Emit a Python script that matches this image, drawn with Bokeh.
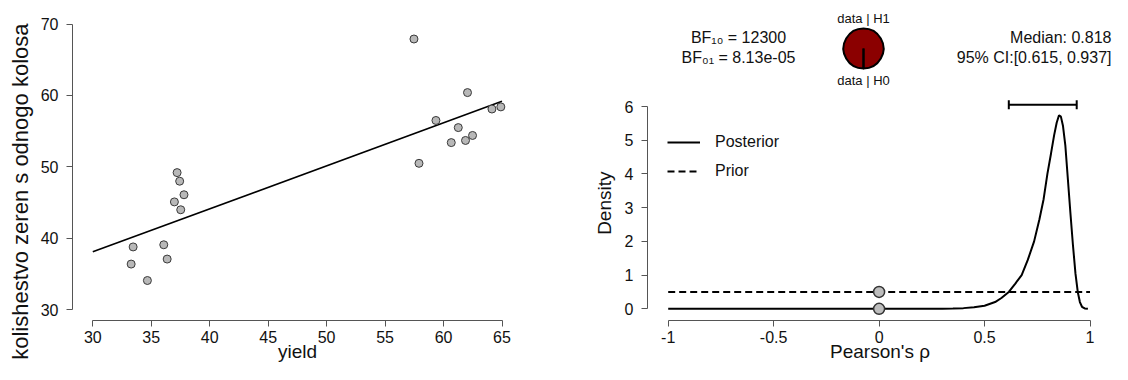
import math
import numpy as np
from bokeh.plotting import figure
from bokeh.layouts import row
from bokeh.models import Range1d, FixedTicker, Legend, LegendItem, Title
from bokeh.core.properties import value
from bokeh.embed import file_html
from bokeh.resources import INLINE

# ---------------- data ----------------
yield_vals = [37.21, 37.43, 37.80, 36.98, 37.52, 36.07, 33.45, 33.28, 36.36, 34.67,
              57.47, 62.05, 59.35, 61.26, 60.66, 61.88, 62.48, 57.90, 64.14, 64.90]
grains = [49.2, 48.0, 46.1, 45.1, 44.0, 39.1, 38.8, 36.4, 37.1, 34.1,
          67.9, 60.4, 56.5, 55.5, 53.4, 53.7, 54.4, 50.5, 58.1, 58.4]
x_ticks_left = [30, 35, 40, 45, 50, 55, 60, 65]
y_ticks_left = [30, 40, 50, 60, 70]

rho = [-1.0, -0.5, 0.0, 0.2, 0.3, 0.35, 0.40, 0.45, 0.50, 0.55, 0.58, 0.615, 0.645,
       0.676, 0.705, 0.735, 0.76, 0.78, 0.798, 0.815, 0.83, 0.842, 0.853, 0.862,
       0.872, 0.883, 0.895, 0.907, 0.919, 0.931, 0.942, 0.952, 0.962, 0.975, 0.99]
posterior = [0.0, 0.0, 0.0, 0.0, 0.004, 0.01, 0.02, 0.045, 0.09, 0.20, 0.32, 0.50, 0.74,
             1.00, 1.45, 2.00, 2.65, 3.25, 4.00, 4.60, 5.15, 5.52, 5.74, 5.70,
             5.42, 4.85, 3.85, 2.85, 1.90, 1.05, 0.50, 0.20, 0.06, 0.01, 0.0]
prior_rho = [-1.0, 1.0]
prior_density = [0.5, 0.5]
point_rho = [0.0, 0.0]
point_density = [0.0, 0.5]          # posterior and prior density at rho = 0
ci = [0.615, 0.937]
ci_height = 6.05
median = 0.818
bf10 = 12300
bf01 = 8.13e-05
x_ticks_right = [-1, -0.5, 0, 0.5, 1]
x_tick_labels_right = ["-1", "-0.5", "0", "0.5", "1"]
y_ticks_right = [0, 1, 2, 3, 4, 5, 6]

FONT = "Liberation Sans"
AXIS_COL = "#555555"
TXT = "#111111"
H = 364
FT, FB = 0, 320          # common frame top / bottom (row aligns the frames)

def style_axes(p, tick_size="16px"):
    p.outline_line_color = None
    p.grid.visible = False
    p.background_fill_color = "white"
    p.border_fill_color = "white"
    for ax in p.axis:
        ax.axis_line_color = AXIS_COL
        ax.major_tick_line_color = AXIS_COL
        ax.minor_tick_line_color = None
        ax.major_tick_out = 6
        ax.major_tick_in = 0
        ax.major_label_text_font = FONT
        ax.major_label_text_font_size = tick_size
        ax.major_label_text_color = TXT
        ax.axis_label_text_font = FONT
        ax.axis_label_text_font_size = "19px"
        ax.axis_label_text_font_style = "normal"
        ax.axis_label_text_color = TXT

def side_title(p, text, size, top_y, standoff=10):
    # vertical title left of the y axis; its upper end sits top_y px below the top
    p.add_layout(Title(text=text, align="right", offset=top_y - FT, standoff=standoff,
                       text_font=FONT, text_font_size=size,
                       text_font_style="normal", text_color=TXT), "left")

# ---------------- left: scatter ----------------
W1 = 560
fl, fr = 72, 522
x30_px, x65_px = 92.3, 501.5
y70_px, y30_px = 23.5, 309.3
sx1 = (x65_px - x30_px) / 35.0
sy1 = (y30_px - y70_px) / 40.0
xr1 = Range1d(30 - (x30_px - fl) / sx1, 30 + (fr - x30_px) / sx1)
yr1 = Range1d(30 - (FB - y30_px) / sy1, 70 + (y70_px - FT) / sy1)

p1 = figure(width=W1, height=H, x_range=xr1, y_range=yr1,
            output_backend="svg", toolbar_location=None, title=None,
            min_border_left=fl, min_border_right=W1 - fr,
            min_border_top=FT, min_border_bottom=H - FB)
style_axes(p1)
p1.xaxis.ticker = FixedTicker(ticks=x_ticks_left)
p1.yaxis.ticker = FixedTicker(ticks=y_ticks_left)
p1.xaxis.bounds = (min(x_ticks_left), max(x_ticks_left))
p1.yaxis.bounds = (min(y_ticks_left), max(y_ticks_left))
p1.xaxis.major_label_standoff = 4
p1.yaxis.major_label_standoff = 8
p1.xaxis.axis_label = "yield"
p1.xaxis.axis_label_standoff = -5
side_title(p1, "kolishestvo zeren s odnogo kolosa", "22px", 23)

slope, intercept = np.polyfit(yield_vals, grains, 1)
lx = [min(x_ticks_left), max(x_ticks_left)]
p1.line(lx, [intercept + slope * v for v in lx], line_color="black", line_width=1.6)
p1.scatter(yield_vals, grains, size=8, fill_color="#b8b8b8",
           line_color="#3a3a3a", line_width=1)

# ---------------- right: posterior ----------------
X2 = W1
W2 = 1112 - X2
gl, gr = 647, 1112
xm1_px, xp1_px = 667.7, 1089.5
y0_px, y6_px = 308.3, 106.0
sx2 = (xp1_px - xm1_px) / 2.0
sy2 = (y0_px - y6_px) / 6.0
xr2 = Range1d(-1 - (xm1_px - gl) / sx2, 1 + (gr - xp1_px) / sx2)
yr2 = Range1d(-(FB - y0_px) / sy2, 6 + (y6_px - FT) / sy2)

def dx(px):
    return -1 + (px - xm1_px) / sx2

def dy(py):
    return (y0_px - py) / sy2

p2 = figure(width=W2, height=H, x_range=xr2, y_range=yr2,
            output_backend="svg", toolbar_location=None, title=None,
            min_border_left=gl - X2, min_border_right=X2 + W2 - gr,
            min_border_top=FT, min_border_bottom=H - FB)
style_axes(p2)
p2.xaxis.ticker = FixedTicker(ticks=x_ticks_right)
p2.xaxis.major_label_overrides = {t: s for t, s in zip(x_ticks_right, x_tick_labels_right)}
p2.yaxis.ticker = FixedTicker(ticks=y_ticks_right)
p2.xaxis.bounds = (min(x_ticks_right), max(x_ticks_right))
p2.yaxis.bounds = (min(y_ticks_right), max(y_ticks_right))
p2.xaxis.major_label_standoff = 4
p2.yaxis.major_label_standoff = 8
p2.xaxis.axis_label = "Pearson's \u03c1"
p2.xaxis.axis_label_standoff = -5
side_title(p2, "Density", "19px", 171, standoff=14)

r_prior = p2.line(prior_rho, prior_density, line_color="black", line_width=2,
                  line_dash="7 4")
r_post = p2.line(rho, posterior, line_color="black", line_width=2)
p2.scatter(point_rho, point_density, size=11, fill_color="#bdbdbd",
           line_color="#333333", line_width=1.5)

# 95% credible interval bar
p2.segment(x0=[ci[0]], y0=[ci_height], x1=[ci[1]], y1=[ci_height],
           line_color="black", line_width=2)
p2.scatter(ci, [ci_height, ci_height], marker="dash", angle=math.pi / 2, size=9,
           line_color="black", line_width=2)

legend = Legend(items=[LegendItem(label="Posterior", renderers=[r_post]),
                       LegendItem(label="Prior", renderers=[r_prior])],
                location=(20, FB - 181), padding=0, margin=0, spacing=9,
                glyph_width=33, glyph_height=20, label_height=20, label_standoff=15,
                label_text_font=FONT, label_text_font_size="16px",
                label_text_color=TXT,
                border_line_color=None, background_fill_alpha=0)
p2.add_layout(legend)

tfont = value(FONT)
p2.text(x=[dx(738)] * 2, y=[dy(36.7), dy(57.3)],
        text=["BF\u2081\u2080 = %d" % bf10, "BF\u2080\u2081 = %.2e" % bf01],
        text_font=tfont, text_font_size="16px", text_align="center",
        text_baseline="middle", text_color=TXT)
p2.text(x=[dx(1111)] * 2, y=[dy(36.7), dy(57.3)],
        text=["Median: %.3f" % median, "95%% CI:[%.3f, %.3f]" % (ci[0], ci[1])],
        text_font=tfont, text_font_size="16px", text_align="right",
        text_baseline="middle", text_color=TXT)
p2.text(x=[dx(863)] * 2, y=[dy(18.3), dy(80)],
        text=["data | H1", "data | H0"],
        text_font=tfont, text_font_size="13px", text_align="center",
        text_baseline="middle", text_color=TXT)

# pie chart: data|H1 vs data|H0
p_h1 = bf10 / (bf10 + 1.0)
start = -math.pi / 2
mid = start + 2 * math.pi * p_h1
p2.wedge(x=[dx(863)], y=[dy(48)], radius=20, radius_units="screen",
         start_angle=[start], end_angle=[mid], fill_color="#8b0000",
         line_color="black", line_width=2)
p2.wedge(x=[dx(863)], y=[dy(48)], radius=20, radius_units="screen",
         start_angle=[mid], end_angle=[start + 2 * math.pi], fill_color="white",
         line_color="black", line_width=2)

layout = row(p1, p2)
open("out.html", "w").write(file_html(layout, INLINE))
